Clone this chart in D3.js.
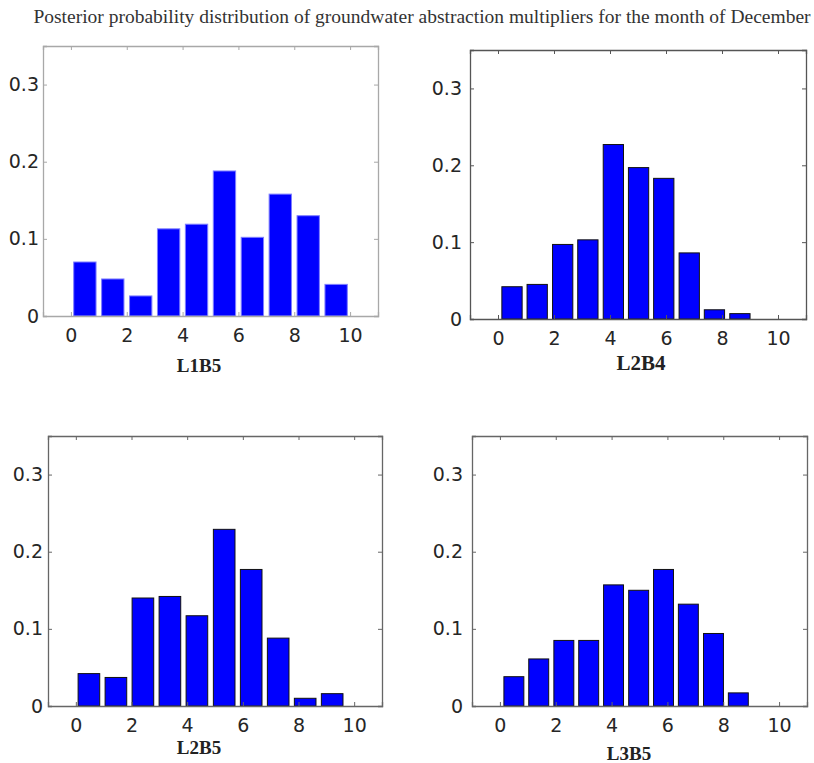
<!DOCTYPE html>
<html>
<head>
<meta charset="utf-8">
<script src="https://cdn.jsdelivr.net/npm/d3@7"></script>
<style>
  html, body { margin: 0; padding: 0; background: #fff; }
  svg { display: block; }
</style>
</head>
<body>
<svg id="chart" width="814" height="763"></svg>
<script>
// ---- data ----
const chartTitle = "Posterior probability distribution of groundwater abstraction multipliers for the month of December";
const panelNames = ["L1B5", "L2B4", "L2B5", "L3B5"];
// histogram bin centres and bin widths
const centersL1B5 = [0.50, 1.50, 2.50, 3.50, 4.50, 5.50, 6.50, 7.50, 8.50, 9.50];
const centersL2B4 = [0.50, 1.40, 2.31, 3.21, 4.12, 5.02, 5.92, 6.83, 7.73, 8.64];
const centersL2B5 = [0.47, 1.44, 2.41, 3.38, 4.35, 5.33, 6.30, 7.27, 8.24, 9.21];
const centersL3B5 = [0.50, 1.39, 2.29, 3.18, 4.07, 4.97, 5.86, 6.75, 7.65, 8.54];
const binWidths = [1.0, 0.905, 0.971, 0.893];
const valuesL1B5 = [0.070, 0.048, 0.026, 0.113, 0.119, 0.188, 0.102, 0.158, 0.130, 0.041];
const valuesL2B4 = [0.042, 0.045, 0.097, 0.103, 0.227, 0.197, 0.183, 0.086, 0.012, 0.007];
const valuesL2B5 = [0.042, 0.037, 0.140, 0.142, 0.117, 0.229, 0.177, 0.088, 0.010, 0.016];
const valuesL3B5 = [0.038, 0.061, 0.085, 0.085, 0.157, 0.150, 0.177, 0.132, 0.094, 0.017];
const xTicks = [0, 2, 4, 6, 8, 10];
const yTicks = [0, 0.1, 0.2, 0.3];
const xDomain = [-1, 11];
const yDomain = [0, 0.35];
const barFraction = 0.8;

const seriesList = [valuesL1B5, valuesL2B4, valuesL2B5, valuesL3B5];
const centersList = [centersL1B5, centersL2B4, centersL2B5, centersL3B5];

// ---- layout (positions / styles) ----
const layout = [
  { left: 43,  right: 378, top: 46,  bottom: 316, ylabGap: 4, nameX: 199, nameY: 372, nameSize: 19, box: "#a8a8a8", edge: "#7f7fff" },
  { left: 470, right: 806, top: 50,  bottom: 319, ylabGap: 8, nameX: 641, nameY: 370, nameSize: 21, box: "#555",    edge: "#111" },
  { left: 48,  right: 382, top: 436, bottom: 706, ylabGap: 5, nameX: 199, nameY: 754, nameSize: 19, box: "#666",    edge: "#111" },
  { left: 472, right: 807, top: 436, bottom: 706, ylabGap: 9, nameX: 629, nameY: 760, nameSize: 19, box: "#666",    edge: "#111" }
];

const svg = d3.select("#chart");

svg.append("text")
  .attr("x", 422).attr("y", 23)
  .attr("text-anchor", "middle")
  .attr("font-family", "'Liberation Serif', 'Times New Roman', serif")
  .attr("font-size", 19.5)
  .attr("fill", "#333")
  .text(chartTitle);

seriesList.forEach((vals, p) => {
  const L = layout[p];
  const x = d3.scaleLinear().domain(xDomain).range([L.left, L.right]);
  const y = d3.scaleLinear().domain(yDomain).range([L.bottom, L.top]);
  const g = svg.append("g");
  const tickLen = 4;
  const centers = centersList[p];

  // bars
  const bw = x(barFraction * binWidths[p]) - x(0);
  g.selectAll("rect.bar")
    .data(vals.map((v, i) => ({ c: centers[i], v })))
    .enter().append("rect")
    .attr("class", "bar")
    .attr("x", d => x(d.c) - bw / 2)
    .attr("width", bw)
    .attr("y", d => y(d.v))
    .attr("height", d => Math.max(0, y(0) - y(d.v)))
    .attr("fill", "#0000ff")
    .attr("stroke", L.edge)
    .attr("stroke-width", d => d.v > 0 ? 1 : 0);

  // bottom axis (ticks inward)
  const xAxisB = d3.axisBottom(x).tickValues(xTicks).tickSize(-tickLen).tickPadding(13).tickFormat(d3.format("d"));
  const gxb = g.append("g").attr("transform", `translate(0,${L.bottom})`).call(xAxisB);
  // top axis
  const xAxisT = d3.axisTop(x).tickValues(xTicks).tickSize(-tickLen).tickFormat("");
  const gxt = g.append("g").attr("transform", `translate(0,${L.top})`).call(xAxisT);
  // left axis
  const yAxisL = d3.axisLeft(y).tickValues(yTicks).tickSize(-tickLen).tickPadding(L.ylabGap)
    .tickFormat(d => d === 0 ? "0" : d3.format(".1f")(d));
  const gyl = g.append("g").attr("transform", `translate(${L.left},0)`).call(yAxisL);
  // right axis
  const yAxisR = d3.axisRight(y).tickValues(yTicks).tickSize(-tickLen).tickFormat("");
  const gyr = g.append("g").attr("transform", `translate(${L.right},0)`).call(yAxisR);

  [gxb, gxt, gyl, gyr].forEach(a => {
    a.select(".domain").attr("stroke", L.box).attr("stroke-width", 1.3);
    a.selectAll(".tick line").attr("stroke", L.box).attr("stroke-width", 1);
    a.selectAll(".tick text")
      .attr("font-family", "'DejaVu Sans', sans-serif")
      .attr("font-size", 19)
      .attr("fill", "#262626");
  });

  // panel label
  g.append("text")
    .attr("x", L.nameX).attr("y", L.nameY)
    .attr("text-anchor", "middle")
    .attr("font-family", "'Liberation Serif', 'Times New Roman', serif")
    .attr("font-weight", "bold")
    .attr("font-size", L.nameSize)
    .attr("fill", "#222")
    .text(panelNames[p]);
});
</script>
</body>
</html>
